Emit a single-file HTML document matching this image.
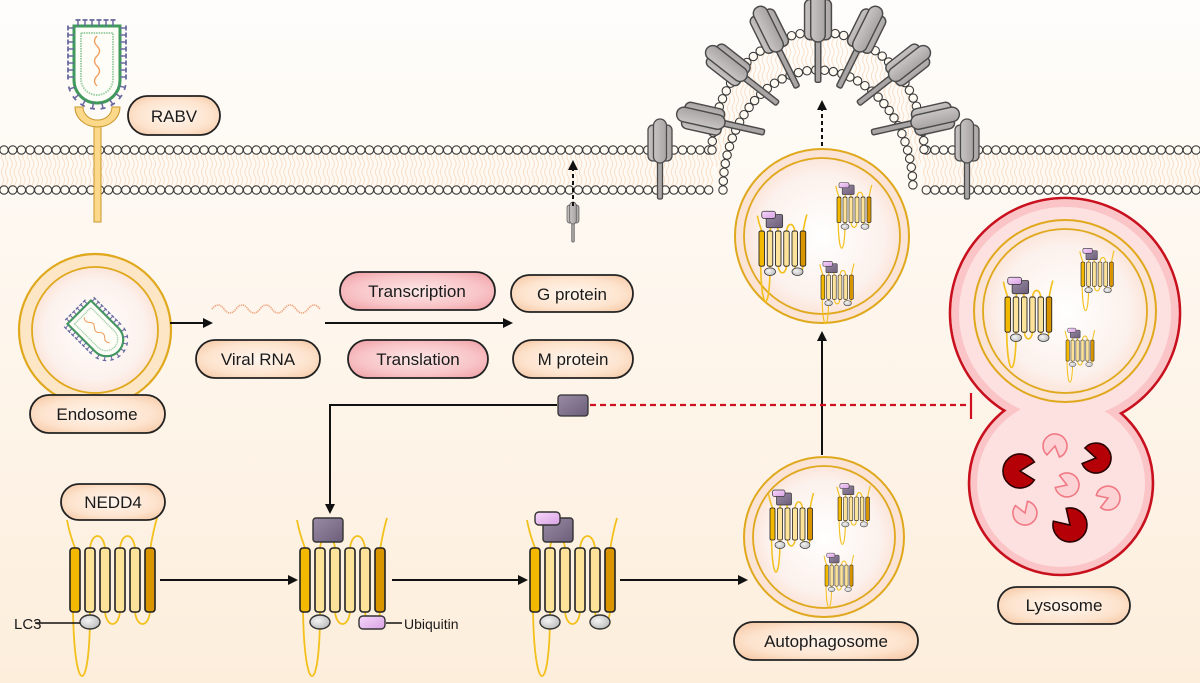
<!DOCTYPE html>
<html><head><meta charset="utf-8"><style>
html,body{margin:0;padding:0;width:1200px;height:683px;overflow:hidden;background:#fdf6ee}
svg{display:block}
text{font-family:"Liberation Sans",Arial,sans-serif;fill:#1a1a1a}
</style></head><body>
<svg id="s" width="1200" height="683" viewBox="0 0 1200 683" xmlns="http://www.w3.org/2000/svg">
<defs>
<linearGradient id="bg" x1="0" y1="0" x2="0" y2="1"><stop offset="0" stop-color="#fefdfb"/><stop offset="1" stop-color="#fdeedc"/></linearGradient>
<radialGradient id="pill" cx="0.5" cy="0.5" r="0.7"><stop offset="0" stop-color="#fff6ee"/><stop offset="0.6" stop-color="#fde3cd"/><stop offset="1" stop-color="#f4c29c"/></radialGradient>
<radialGradient id="pink" cx="0.5" cy="0.5" r="0.7"><stop offset="0" stop-color="#fde8e8"/><stop offset="0.6" stop-color="#f8c3c6"/><stop offset="1" stop-color="#ee9aa0"/></radialGradient>
<radialGradient id="auto" cx="0.5" cy="0.5" r="0.5"><stop offset="0" stop-color="#ffffff"/><stop offset="0.8" stop-color="#fcf1ec"/><stop offset="1" stop-color="#fbe5da"/></radialGradient>
<linearGradient id="purp" x1="0" y1="0" x2="1" y2="1"><stop offset="0" stop-color="#9a8aa6"/><stop offset="1" stop-color="#6c5e78"/></linearGradient>
<linearGradient id="ubi" x1="0" y1="0" x2="1" y2="1"><stop offset="0" stop-color="#f6d8fa"/><stop offset="1" stop-color="#d9a2e4"/></linearGradient>
<radialGradient id="lc3" cx="0.4" cy="0.4" r="0.7"><stop offset="0" stop-color="#f4f4f4"/><stop offset="1" stop-color="#b8b8b8"/></radialGradient>
<linearGradient id="gp" x1="0" y1="0" x2="1" y2="0"><stop offset="0" stop-color="#c8c4c4"/><stop offset="1" stop-color="#a9a4a4"/></linearGradient>
<pattern id="tails" width="8.7" height="32" patternUnits="userSpaceOnUse">
<path d="M2.5,0 q2.5,4 0,8 q-2.5,4 0,8 q2.5,4 0,8 q-2.5,4 0,8 M6.5,0 q2.5,4 0,8 q-2.5,4 0,8 q2.5,4 0,8 q-2.5,4 0,8" stroke="#f8d3b3" stroke-width="0.7" fill="none"/>
</pattern>
<marker id="ah" markerWidth="10" markerHeight="10" refX="8" refY="5" orient="auto" markerUnits="userSpaceOnUse"><path d="M0,0 L10,5 L0,10 Z" fill="#111"/></marker>
</defs>
<rect width="1200" height="683" fill="url(#bg)"/>
<g id="mem"></g>
<g id="dyn"></g>

<g stroke="#111" stroke-width="2" fill="none">
<line x1="170" y1="323" x2="211" y2="323" marker-end="url(#ah)"/>
<line x1="325" y1="323" x2="511" y2="323" marker-end="url(#ah)"/>
<line x1="573" y1="206" x2="573" y2="162" stroke-dasharray="4,3" marker-end="url(#ah)"/>
<line x1="822" y1="146" x2="822" y2="102" stroke-dasharray="4,3" marker-end="url(#ah)"/>
<polyline points="557,405 330,405 330,512" marker-end="url(#ah)"/>
<line x1="160" y1="580" x2="296" y2="580" marker-end="url(#ah)"/>
<line x1="392" y1="580" x2="526" y2="580" marker-end="url(#ah)"/>
<line x1="620" y1="580" x2="746" y2="580" marker-end="url(#ah)"/>
<line x1="822" y1="455" x2="822" y2="333" marker-end="url(#ah)"/>
<line x1="35" y1="623" x2="80" y2="623" stroke-width="1.5"/>
<line x1="386" y1="623" x2="402" y2="623" stroke-width="1.5"/>
</g>
<line x1="590" y1="405" x2="968" y2="405" stroke="#d01020" stroke-width="2.2" stroke-dasharray="6,4"/>
<line x1="971" y1="393" x2="971" y2="419" stroke="#d01020" stroke-width="2.2"/>
<rect x="558" y="395" width="30" height="21" rx="3" fill="url(#purp)" stroke="#333" stroke-width="1.3"/>

<g stroke="#222" stroke-width="1.8">
<rect x="128" y="96" width="92" height="39" rx="19.5" fill="url(#pill)"/>
<rect x="30" y="395" width="135" height="38" rx="19" fill="url(#pill)"/>
<rect x="196" y="340" width="124" height="38" rx="19" fill="url(#pill)"/>
<rect x="340" y="272" width="155" height="38" rx="19" fill="url(#pink)"/>
<rect x="348" y="340" width="140" height="38" rx="19" fill="url(#pink)"/>
<rect x="511" y="275" width="122" height="37" rx="18.5" fill="url(#pill)"/>
<rect x="513" y="340" width="120" height="38" rx="19" fill="url(#pill)"/>
<rect x="61" y="484" width="104" height="36" rx="18" fill="url(#pill)"/>
<rect x="734" y="622" width="184" height="38" rx="19" fill="url(#pill)"/>
<rect x="998" y="587" width="132" height="37" rx="18.5" fill="url(#pill)"/>
</g>
<g font-size="17" text-anchor="middle">
<text x="174" y="122">RABV</text>
<text x="97" y="420">Endosome</text>
<text x="258" y="365">Viral RNA</text>
<text x="417" y="297">Transcription</text>
<text x="418" y="365">Translation</text>
<text x="572" y="300">G protein</text>
<text x="573" y="365">M protein</text>
<text x="113" y="508">NEDD4</text>
<text x="826" y="647">Autophagosome</text>
<text x="1064" y="611">Lysosome</text>
</g>
<text x="14" y="629" font-size="15">LC3</text>
<text x="404" y="629" font-size="14">Ubiquitin</text>
</svg>
<script>
(function(){
var mem=document.getElementById('mem'), dyn=document.getElementById('dyn');
var out=[];
function add(html){out.push(html);}
add('<rect x="0" y="154" width="714" height="32" fill="url(#tails)"/>');
add('<rect x="922" y="154" width="278" height="32" fill="url(#tails)"/>');
var cx=818,aO=106,bO=150,hO=118,aI=95,bI=190,hI=120;
function po(t){return [cx+aO*Math.cos(t), bO-hO*Math.sin(t)];}
function pi(t){return [cx+aI*Math.cos(t), bI-hI*Math.sin(t)];}
var pts=[],i,N=200;
for(i=0;i<=N;i++){var p=po(Math.PI*i/N);pts.push(p[0].toFixed(1)+','+(p[1]+4).toFixed(1));}
for(i=N;i>=0;i--){var p=pi(Math.PI*i/N);pts.push(p[0].toFixed(1)+','+(p[1]-4).toFixed(1));}
add('<polygon points="'+pts.join(' ')+'" fill="url(#tails)"/>');
function circ(x,y){return '<circle cx="'+x.toFixed(1)+'" cy="'+y.toFixed(1)+'" r="4.2" fill="#fffbf3" stroke="#3a3a3a" stroke-width="1.1"/>';}
var x;
for(x=4;x<712;x+=8.7){add(circ(x,150));}
for(x=4;x<716;x+=8.7){add(circ(x,190));}
for(x=1196;x>926;x-=8.7){add(circ(x,150));}
for(x=1196;x>922;x-=8.7){add(circ(x,190));}
function along(f){var prev=f(Math.PI),acc=8.7;for(var k=0;k<=2000;k++){var t=Math.PI-Math.PI*k/2000;var q=f(t);acc+=Math.hypot(q[0]-prev[0],q[1]-prev[1]);prev=q;if(acc>=8.7){acc=0;add(circ(q[0],q[1]));}}}
along(po);along(pi);
mem.innerHTML=out.join('');
out=[];
function gprot(x,y,rot,s){
 s=s||1;
 return '<g transform="translate('+x.toFixed(1)+','+y.toFixed(1)+') rotate('+rot.toFixed(1)+') scale('+s+')" stroke="#4a4a4a" stroke-width="1.3">'+
 '<rect x="-2.5" y="-2" width="5" height="38" rx="1.5" fill="#a9a5a5"/>'+
 '<rect x="-12" y="-38" width="11" height="36" rx="5" fill="url(#gp)"/>'+
 '<rect x="1" y="-38" width="11" height="36" rx="5" fill="url(#gp)"/>'+
 '<rect x="-6.5" y="-44" width="13" height="44" rx="6.5" fill="url(#gp)"/></g>';
}
add(gprot(660,163,0));
add(gprot(967,163,0));
var ts=[166,139,114,90,66,41,14];
ts.forEach(function(d){var t=d*Math.PI/180;var p=po(t);
 var nx=Math.cos(t)/aO, ny=-Math.sin(t)/hO, L=Math.hypot(nx,ny);nx/=L;ny/=L;
 var rot=Math.atan2(nx,-ny)*180/Math.PI;
 add(gprot(p[0]-nx*10,p[1]-ny*10,rot,1.12));
});
add(gprot(573,224,0,0.5));
function virus(){
 var g='';
 g+='<path d="M75,30 L75,84 A23,23 0 0 0 121,84 L121,30 Z" fill="#fffdf8" stroke="#3f9a5c" stroke-width="3"/>';
 g+='<path d="M82,37 L82,83 A16,16 0 0 0 114,83 L114,37 Z" fill="none" stroke="#9ed0a8" stroke-width="2" stroke-dasharray="1.5,1"/>';
 g+='<path d="M98,40 q-5,5 0,10 q5,5 0,10 q-5,5 0,10 q5,5 0,10 q-5,5 0,10" fill="none" stroke="#f29a5a" stroke-width="1.3"/>';
 var sp=[];
 for(var yy=32;yy<=84;yy+=7){sp.push([75,yy,-1,0]);sp.push([121,yy,1,0]);}
 for(var xx=79;xx<=118;xx+=7){sp.push([xx,30,0,-1]);}
 for(var a=15;a<=165;a+=21){var r=a*Math.PI/180;sp.push([98+23*Math.cos(r),84+23*Math.sin(r),Math.cos(r),Math.sin(r)]);}
 sp.forEach(function(q){var x2=q[0]+q[2]*6,y2=q[1]+q[3]*6;
  g+='<line x1="'+q[0]+'" y1="'+q[1]+'" x2="'+x2+'" y2="'+y2+'" stroke="#6a6aa0" stroke-width="1.5"/>';
  g+='<line x1="'+(x2-q[3]*2.5)+'" y1="'+(y2+q[2]*2.5)+'" x2="'+(x2+q[3]*2.5)+'" y2="'+(y2-q[2]*2.5)+'" stroke="#6a6aa0" stroke-width="1.8"/>';});
 return g;
}
add('<g transform="translate(-1,-4)">'+virus()+'</g>');
add('<rect x="94" y="120" width="7" height="102" fill="#fcd98a" stroke="#c9962a" stroke-width="1"/>');
add('<path d="M75,107 L83,107 A14.5,13 0 0 0 112,107 L120,107 A22.5,20 0 0 1 75,107 Z" fill="#fcd98a" stroke="#c9962a" stroke-width="1"/>');
add('<circle cx="95" cy="330" r="76" fill="#fde6c6" stroke="#e0a81c" stroke-width="2.2"/>');
add('<circle cx="95" cy="330" r="63" fill="url(#auto)" stroke="#e0a81c" stroke-width="1.8"/>');
add('<g transform="translate(97,330) rotate(-45) scale(0.72) translate(-98,-65)">'+virus()+'</g>');
var w='M212,309';for(var k=0;k<9;k++){w+=' q6,'+(k%2?8:-8)+' 12,0';}
add('<path d="'+w+'" fill="none" stroke="#f0a07a" stroke-width="1.6" stroke-dasharray="1.2,0.8"/>');
function cluster(x,y,s,o){
 var g='<g transform="translate('+x+','+y+') scale('+s+')">';
 var ln='fill="none" stroke="#f3c01c" stroke-width="'+(1.8/Math.max(s,0.6))+'"';
 g+='<path d="M-3,-28 C0,-12 3,-6 5,0" '+ln+'/>';
 g+='<path d="M3,60 C4,150 20,150 20,64" '+ln+'/>';
 g+='<path d="M20,0 C22,-16 33,-16 35,0 M50,0 C52,-16 63,-16 65,0" '+ln+'/>';
 g+='<path d="M35,64 C37,80 48,80 50,64 M65,64 C67,80 78,80 80,64" '+ln+'/>';
 g+='<path d="M80,2 C82,-10 84,-20 87,-30" '+ln+'/>';
 var cols=['#f3b800','#fde39a','#fde39a','#fde39a','#fde39a','#d99500'];
 for(var b=0;b<6;b++){g+='<rect x="'+(b*15)+'" y="0" width="10" height="64" rx="3" fill="'+cols[b]+'" stroke="#222" stroke-width="1.6"/>';}
 if(o.lc3a)g+='<ellipse cx="20" cy="74" rx="10" ry="7" fill="url(#lc3)" stroke="#333" stroke-width="1.4"/>';
 if(o.lc3b)g+='<ellipse cx="70" cy="74" rx="10" ry="7" fill="url(#lc3)" stroke="#333" stroke-width="1.4"/>';
 if(o.ubiside)g+='<rect x="59" y="68" width="26" height="13" rx="4" fill="url(#ubi)" stroke="#333" stroke-width="1.4"/>';
 if(o.purp)g+='<rect x="13" y="-30" width="30" height="24" rx="3" fill="url(#purp)" stroke="#333" stroke-width="1.4"/>';
 if(o.ubitop)g+='<rect x="5" y="-36" width="25" height="13" rx="4" fill="url(#ubi)" stroke="#333" stroke-width="1.4"/>';
 return g+'</g>';
}
add(cluster(70,548,1,{lc3a:1}));
add(cluster(300,548,1,{lc3a:1,ubiside:1,purp:1}));
add(cluster(530,548,1,{lc3a:1,lc3b:1,purp:1,ubitop:1}));
function autoph(cx,cy,r){
 return '<circle cx="'+cx+'" cy="'+cy+'" r="'+r+'" fill="#fbe3d6" stroke="#e0a81c" stroke-width="2"/>'+
 '<circle cx="'+cx+'" cy="'+cy+'" r="'+(r-9)+'" fill="url(#auto)" stroke="#e0a81c" stroke-width="1.8"/>';
}
function triple(a,b,c){var O={lc3a:1,lc3b:1,purp:1,ubitop:1};return cluster(a[0],a[1],a[2],O)+cluster(b[0],b[1],b[2],O)+cluster(c[0],c[1],c[2],O);}
add(autoph(822,236,87));
add(triple([759,231,0.55],[837,197,0.4],[821,275,0.38]));
add(autoph(824,537,80));
add(triple([770,508,0.5],[838,497,0.37],[825,565,0.33]));
add('<circle cx="1065" cy="313" r="115" fill="#fbc4c6" stroke="#c8101e" stroke-width="2.6"/>');
add('<circle cx="1061" cy="483" r="92" fill="#fbc4c6" stroke="#c8101e" stroke-width="2.6"/>');
add('<circle cx="1065" cy="313" r="113.7" fill="#fbc4c6"/>');
add('<circle cx="1065" cy="313" r="106" fill="#fde0e0"/>');
add('<circle cx="1061" cy="483" r="84" fill="#fde0e0"/>');
add('<rect x="1020" y="400" width="84" height="20" fill="#fde0e0"/>');
add(autoph(1065,311,91));
add(triple([1005,297,0.55],[1081,262,0.38],[1066,340,0.33]));
function pac(cx,cy,r,d,fill,st){
 function p(a){a=a*Math.PI/180;return (cx+r*Math.cos(a)).toFixed(1)+','+(cy+r*Math.sin(a)).toFixed(1);}
 return '<path d="M'+cx+','+cy+' L'+p(d+32)+' A'+r+','+r+' 0 1 1 '+p(d-32)+' Z" fill="'+fill+'" stroke="'+st+'" stroke-width="1.6"/>';
}
add(pac(1020,471,17,0,'#b50008','#2a0000'));
add(pac(1096,458,15,190,'#b50008','#2a0000'));
add(pac(1070,525,17,225,'#b50008','#2a0000'));
add(pac(1055,446,12,100,'#fdd2d4','#f07a84'));
add(pac(1067,485,12,200,'#fdd2d4','#f07a84'));
add(pac(1108,498,12,160,'#fdd2d4','#f07a84'));
add(pac(1025,513,12,250,'#fdd2d4','#f07a84'));
dyn.innerHTML=out.join('');
})();
</script>
</body></html>
